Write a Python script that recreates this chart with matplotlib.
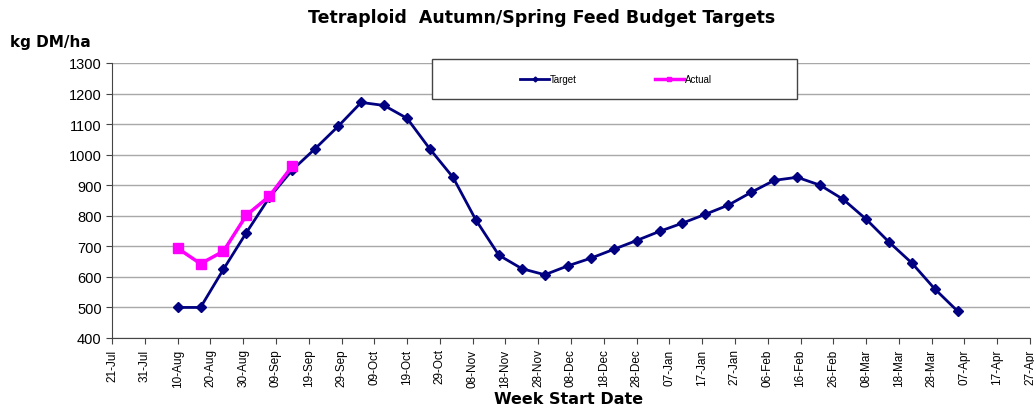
import pandas as pd
import numpy as np
from matplotlib import pyplot as plt
import matplotlib.dates as mdates
from matplotlib.patches import Rectangle

# weekly target starting 10-Aug
target_start = '2009-08-10'
target = [500, 500, 625, 745, 860, 950, 1020, 1093, 1171, 1161, 1119, 1018,
          926, 786, 671, 627, 607, 636, 661, 690, 719, 749, 776, 805, 835,
          877, 916, 926, 900, 854, 789, 714, 645, 560, 487]
actual_start = '2009-08-10'
actual = [694, 643, 684, 802, 864, 963]

tick_start = '2009-07-21'
n_ticks = 29

target_dates = pd.date_range(target_start, periods=len(target), freq='7D')
actual_dates = pd.date_range(actual_start, periods=len(actual), freq='7D')
tick_dates = pd.date_range(tick_start, periods=n_ticks, freq='10D')

plt.rcParams['font.family'] = ['Liberation Sans', 'DejaVu Sans']

fig = plt.figure(figsize=(10.34, 4.10), dpi=100)
ax = fig.add_axes([112/1034, 71/410, 918/1034, 275/410])

ax.plot(target_dates, target, c='#000080', lw=2, marker='D', ms=5, label='Target', zorder=3)
ax.plot(actual_dates, actual, c='#FF00FF', lw=2.5, marker='s', ms=7, label='Actual', zorder=4)

ax.set_ylim(400, 1300)
ax.set_yticks(range(400, 1301, 100))
ax.set_xlim(tick_dates[0], tick_dates[-1])
ax.set_xticks(tick_dates)
ax.xaxis.set_major_formatter(mdates.DateFormatter('%d-%b'))
ax.tick_params(axis='x', labelrotation=90, labelsize=8.5, length=4, color='#444444')
ax.tick_params(axis='y', labelsize=10.5, length=4, color='#444444')
ax.grid(axis='y', color='#a8a8a8', lw=1)
ax.set_axisbelow(True)
for s in ['top', 'right']:
    ax.spines[s].set_visible(False)
ax.spines['left'].set_color('#444444')
ax.spines['bottom'].set_color('#444444')

fig.text(542/1034, 1 - 18/410, 'Tetraploid  Autumn/Spring Feed Budget Targets',
         ha='center', va='center', fontsize=12.5, fontweight='bold', family='DejaVu Sans')
fig.text(10/1034, 1 - 42/410, 'kg DM/ha', ha='left', va='center',
         fontsize=11, fontweight='bold', family='DejaVu Sans')
fig.text(569/1034, 1 - 400/410, 'Week Start Date', ha='center', va='center',
         fontsize=11.5, fontweight='bold', family='DejaVu Sans')

fig.patches.append(Rectangle((432/1034, 1 - 100/410), 365/1034, 40/410,
                             transform=fig.transFigure, facecolor='white',
                             edgecolor='#444444', lw=1, zorder=5))
leg = fig.legend(loc='center', bbox_to_anchor=(616/1034, 1 - 80/410), ncol=2,
                 frameon=False, fontsize=7, handlelength=3, handletextpad=0.1,
                 columnspacing=8, markerscale=0.5)
leg.set_zorder(6)

fig.savefig('out.png', dpi=100)
